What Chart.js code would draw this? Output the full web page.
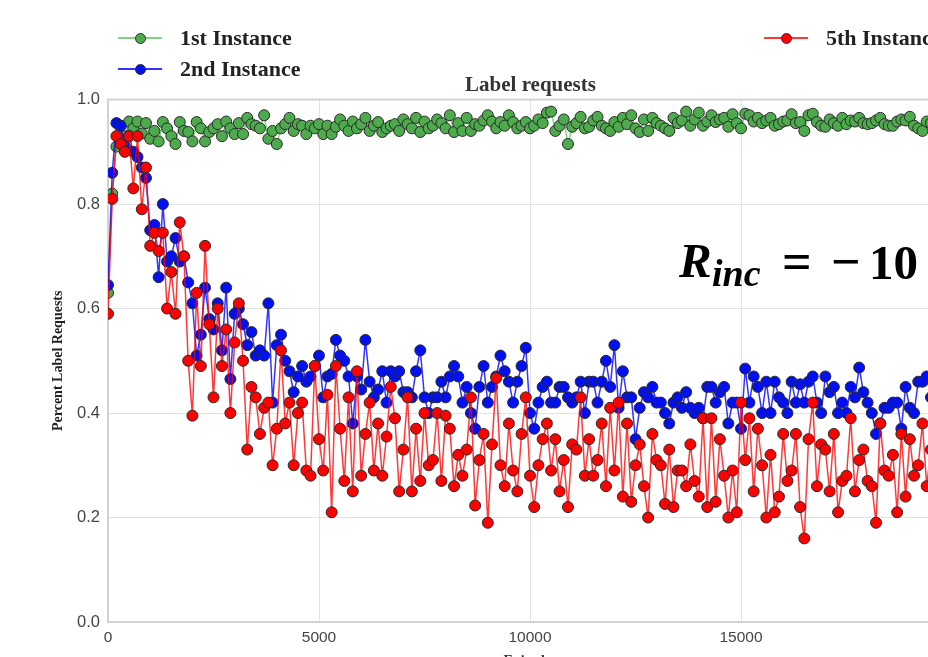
<!DOCTYPE html>
<html>
<head>
<meta charset="utf-8">
<script src="https://cdn.jsdelivr.net/npm/chart.js@4.4.1/dist/chart.umd.min.js"></script>
<style>
  html, body { margin: 0; padding: 0; background: #fff; }
  #wrap { position: relative; width: 928px; height: 657px; overflow: hidden; }
  #chart { position: absolute; left: 0; top: 0; }
  .leg-text { position: absolute; font: bold 22px 'Liberation Serif', serif; line-height: 1; color: #222; white-space: nowrap; }
  .leg-line { position: absolute; width: 44px; height: 2px; }
  .leg-dot { position: absolute; width: 11px; height: 11px; border-radius: 50%; border: 1px solid #333; box-sizing: border-box; }
  .math { position: absolute; font-family: 'Liberation Serif', serif; font-weight: bold; line-height: 1; color: #000; white-space: nowrap; }
</style>
</head>
<body>
<div id="wrap">
  <canvas id="chart" width="1061" height="680"></canvas>
  <div id="legend"></div>
  <span class="math" style="left:679px; top:236px; font-size:49px; font-style:italic;">R</span>
  <span class="math" style="left:712px; top:254px; font-size:38px; font-style:italic;">inc</span>
  <span class="math" style="left:782px; top:236px; font-size:52px;">=</span>
  <span class="math" style="left:831px; top:236px; font-size:52px;">−</span>
  <span class="math" style="left:869px; top:238px; font-size:49px;">10</span>
</div>
<script>
// valeurs, un point toutes les 100 episodes
const episodeStep = 100;
const seriesLabels = ['1st Instance', '2nd Instance', '5th Instance'];

const firstInstance = [
  0.63, 0.82, 0.91, 0.95, 0.93, 0.958, 0.945, 0.958, 0.935, 0.955,
  0.925, 0.94, 0.92, 0.957, 0.945, 0.93, 0.915, 0.957, 0.94, 0.938,
  0.92, 0.957, 0.945, 0.92, 0.938, 0.945, 0.953, 0.93, 0.958, 0.945,
  0.934, 0.955, 0.934, 0.965, 0.953, 0.95, 0.945, 0.97, 0.925, 0.94,
  0.915, 0.945, 0.953, 0.965, 0.94, 0.953, 0.95, 0.934, 0.95, 0.945,
  0.953, 0.934, 0.95, 0.934, 0.948, 0.962, 0.95, 0.94, 0.958, 0.945,
  0.953, 0.965, 0.94, 0.95, 0.957, 0.938, 0.945, 0.95, 0.953, 0.94,
  0.962, 0.953, 0.945, 0.965, 0.938, 0.958, 0.945, 0.95, 0.962, 0.955,
  0.945, 0.97, 0.938, 0.955, 0.94, 0.965, 0.94, 0.953, 0.95, 0.96,
  0.97, 0.958, 0.945, 0.957, 0.95, 0.97, 0.957, 0.945, 0.95, 0.957,
  0.945, 0.95, 0.962, 0.955, 0.975, 0.977, 0.94, 0.95, 0.962, 0.915,
  0.948, 0.955, 0.967, 0.945, 0.948, 0.96, 0.967, 0.95, 0.945, 0.94,
  0.957, 0.948, 0.965, 0.953, 0.97, 0.945, 0.938, 0.962, 0.94, 0.965,
  0.955, 0.95, 0.945, 0.94, 0.965, 0.955, 0.96, 0.977, 0.95, 0.962,
  0.975, 0.95, 0.958, 0.97, 0.957, 0.962, 0.965, 0.948, 0.972, 0.955,
  0.945, 0.973, 0.97, 0.958, 0.965, 0.955, 0.96, 0.965, 0.95, 0.953,
  0.958, 0.96, 0.972, 0.955, 0.957, 0.94, 0.97, 0.973, 0.957, 0.95,
  0.948, 0.962, 0.955, 0.95, 0.965, 0.953, 0.96, 0.958, 0.965, 0.955,
  0.953, 0.955, 0.96, 0.965, 0.953, 0.95, 0.95, 0.958, 0.962, 0.96,
  0.967, 0.95, 0.945, 0.94, 0.958, 0.955, 0.96, 0.95, 0.955, 0.96
];

const secondInstance = [
  0.645, 0.86, 0.955, 0.95, 0.91, 0.93, 0.90, 0.89, 0.87, 0.85,
  0.75, 0.76, 0.66, 0.80, 0.69, 0.70, 0.735, 0.69, 0.70, 0.65,
  0.61, 0.51, 0.55, 0.64, 0.58, 0.56, 0.61, 0.52, 0.64, 0.465,
  0.59, 0.60, 0.57, 0.53, 0.555, 0.51, 0.52, 0.51, 0.61, 0.42,
  0.53, 0.55, 0.50, 0.48, 0.44, 0.47, 0.49, 0.46, 0.47, 0.49,
  0.51, 0.43, 0.47, 0.475, 0.54, 0.51, 0.50, 0.47, 0.38, 0.47,
  0.445, 0.54, 0.46, 0.43, 0.445, 0.48, 0.42, 0.48, 0.47, 0.48,
  0.44, 0.44, 0.43, 0.48, 0.52, 0.43, 0.40, 0.43, 0.43, 0.46,
  0.43, 0.47, 0.49, 0.47, 0.42, 0.45, 0.40, 0.37, 0.45, 0.49,
  0.42, 0.45, 0.47, 0.51, 0.48, 0.46, 0.42, 0.46, 0.49, 0.525,
  0.40, 0.37, 0.42, 0.45, 0.46, 0.42, 0.42, 0.45, 0.45, 0.43,
  0.42, 0.43, 0.46, 0.40, 0.46, 0.46, 0.42, 0.46, 0.50, 0.45,
  0.53, 0.41, 0.48, 0.43, 0.43, 0.35, 0.41, 0.44, 0.43, 0.45,
  0.42, 0.42, 0.40, 0.38, 0.42, 0.43, 0.41, 0.44, 0.41, 0.40,
  0.41, 0.39, 0.45, 0.45, 0.42, 0.44, 0.45, 0.38, 0.42, 0.42,
  0.37, 0.485, 0.42, 0.47, 0.45, 0.40, 0.46, 0.40, 0.46, 0.43,
  0.42, 0.40, 0.46, 0.42, 0.455, 0.42, 0.46, 0.47, 0.42, 0.40,
  0.47, 0.44, 0.45, 0.40, 0.42, 0.40, 0.45, 0.43, 0.487, 0.44,
  0.42, 0.40, 0.36, 0.38, 0.41, 0.41, 0.42, 0.42, 0.37, 0.45,
  0.41, 0.40, 0.46, 0.46, 0.47, 0.43, 0.45, 0.42, 0.46, 0.44
];

const fifthInstance = [
  0.59, 0.81, 0.93, 0.915, 0.90, 0.93, 0.83, 0.93, 0.79, 0.87,
  0.72, 0.745, 0.71, 0.745, 0.60, 0.67, 0.59, 0.765, 0.70, 0.50,
  0.395, 0.63, 0.49, 0.72, 0.57, 0.43, 0.60, 0.49, 0.56, 0.40,
  0.535, 0.61, 0.50, 0.33, 0.45, 0.43, 0.36, 0.41, 0.42, 0.30,
  0.37, 0.52, 0.38, 0.42, 0.30, 0.40, 0.42, 0.29, 0.28, 0.49,
  0.35, 0.29, 0.435, 0.21, 0.49, 0.37, 0.27, 0.43, 0.25, 0.48,
  0.28, 0.36, 0.42, 0.29, 0.38, 0.28, 0.355, 0.45, 0.39, 0.25,
  0.33, 0.43, 0.25, 0.37, 0.27, 0.40, 0.30, 0.31, 0.40, 0.27,
  0.395, 0.37, 0.26, 0.32, 0.28, 0.33, 0.43, 0.223, 0.31, 0.36,
  0.19, 0.34, 0.467, 0.30, 0.26, 0.38, 0.29, 0.25, 0.36, 0.43,
  0.28, 0.22, 0.30, 0.35, 0.38, 0.29, 0.35, 0.25, 0.31, 0.22,
  0.34, 0.33, 0.43, 0.28, 0.35, 0.28, 0.31, 0.38, 0.26, 0.41,
  0.29, 0.42, 0.24, 0.38, 0.23, 0.30, 0.34, 0.26, 0.20, 0.36,
  0.31, 0.30, 0.226, 0.33, 0.22, 0.29, 0.29, 0.26, 0.34, 0.27,
  0.24, 0.39, 0.22, 0.39, 0.23, 0.35, 0.28, 0.20, 0.29, 0.21,
  0.42, 0.31, 0.39, 0.25, 0.37, 0.30, 0.20, 0.32, 0.21, 0.24,
  0.36, 0.27, 0.29, 0.36, 0.22, 0.16, 0.35, 0.42, 0.26, 0.34,
  0.33, 0.25, 0.36, 0.21, 0.27, 0.28, 0.39, 0.25, 0.31, 0.33,
  0.27, 0.26, 0.19, 0.38, 0.29, 0.28, 0.32, 0.21, 0.36, 0.24,
  0.35, 0.28, 0.30, 0.38, 0.26, 0.33, 0.30, 0.35, 0.28, 0.32
];

const episodes = firstInstance.map((_, i) => i * episodeStep);
const yTicks = [0, 0.2, 0.4, 0.6, 0.8, 1.0];

const lineColors = ['rgba(110, 200, 110, 0.85)', 'rgba(0, 0, 255, 0.8)', 'rgba(255, 0, 0, 0.78)'];
const dotColors = ['#4dab4d', '#0010f0', '#ff0000'];

const serif = "'Liberation Serif', serif";
const sans = "'Liberation Sans', Arial, sans-serif";

function toPoints(values) {
    return values.map((v, i) => ({ x: episodes[i], y: v }));
}

function makeDataset(idx, values, order) {
    return {
        label: seriesLabels[idx],
        data: toPoints(values),
        borderColor: lineColors[idx],
        borderWidth: 1.5,
        pointBackgroundColor: dotColors[idx],
        pointBorderColor: '#2a2a2a',
        pointBorderWidth: 1,
        pointRadius: 5.5,
        tension: 0,
        order: order
    };
}

// cadre gris autour de la zone du graphique
const frame = {
    id: 'frame',
    beforeDatasetsDraw(chart) {
        const a = chart.chartArea;
        const c = chart.ctx;
        c.save();
        c.strokeStyle = '#d2d2d2';
        c.lineWidth = 2;
        c.strokeRect(a.left, a.top, a.right - a.left, a.bottom - a.top);
        c.restore();
    }
};

new Chart(document.getElementById('chart').getContext('2d'), {
    type: 'line',
    data: {
        datasets: [
            makeDataset(0, firstInstance, 3),
            makeDataset(1, secondInstance, 2),
            makeDataset(2, fifthInstance, 1)
        ]
    },
    options: {
        responsive: false,
        animation: false,
        plugins: {
            legend: { display: false },
            tooltip: { enabled: false },
            title: {
                display: true,
                text: 'Label requests',
                color: '#333',
                font: { family: serif, size: 21, weight: 'bold' },
                padding: { top: 73, bottom: 1.4 }
            }
        },
        scales: {
            x: {
                type: 'linear',
                min: 0,
                max: 20000,
                afterFit: s => { s.height = 58; },
                ticks: { stepSize: 5000, padding: 6, maxRotation: 0, color: '#444', font: { family: sans, size: 15.5 }, callback: v => String(v) },
                grid: { color: '#e2e2e2', drawTicks: false },
                border: { color: '#d2d2d2', width: 2 },
                title: { display: true, text: 'Episodes', color: '#333', font: { family: serif, size: 14, weight: 'bold' }, padding: { top: 0, bottom: 10 } }
            },
            y: {
                min: 0,
                max: 1,
                afterFit: s => { s.width = 108; },
                afterBuildTicks: s => { s.ticks = yTicks.map(v => ({ value: v })); },
                ticks: { padding: 8, color: '#444', font: { family: sans, size: 16.5 }, callback: v => v.toFixed(1) },
                grid: { color: '#e2e2e2', drawTicks: false },
                border: { color: '#d2d2d2', width: 2 },
                title: { display: true, text: 'Percent Label Requests', color: '#222', font: { family: serif, size: 14, weight: 'bold' }, padding: { top: 50, bottom: 0 } }
            },
            yRight: {
                position: 'right',
                afterFit: s => { s.width = 109; },
                grid: { display: false },
                ticks: { display: false },
                border: { display: false }
            }
        }
    },
    plugins: [frame]
});

// legende faite a la main (trois entrees, disposition de la figure)
const legendPos = [
    { left: 118, y: 38 },
    { left: 118, y: 69 },
    { left: 764, y: 38 }
];
const legend = document.getElementById('legend');
seriesLabels.forEach((name, i) => {
    const p = legendPos[i];
    const line = document.createElement('div');
    line.className = 'leg-line';
    line.style.left = p.left + 'px';
    line.style.top = (p.y - 1) + 'px';
    line.style.background = lineColors[i];
    const dot = document.createElement('div');
    dot.className = 'leg-dot';
    dot.style.left = (p.left + 16.5) + 'px';
    dot.style.top = (p.y - 5.5) + 'px';
    dot.style.background = dotColors[i];
    const txt = document.createElement('span');
    txt.className = 'leg-text';
    txt.textContent = name;
    txt.style.left = (p.left + 62) + 'px';
    txt.style.top = (p.y - 11) + 'px';
    legend.append(line, dot, txt);
});
</script>
</body>
</html>
